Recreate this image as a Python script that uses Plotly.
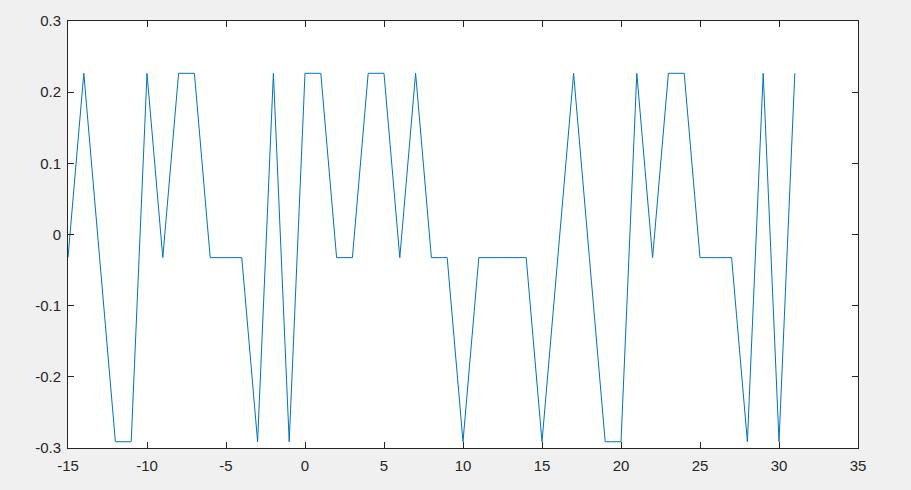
import plotly.graph_objects as go

HI = 0.2265
MID = -0.0325
LO = -0.2912

x_vals = list(range(-15, 32))
y_vals = [
    MID, HI, MID, LO, LO, HI, MID, HI, HI, MID,   # -15..-6
    MID, MID, LO, HI, LO, HI, HI, MID, MID, HI,   # -5..4
    HI, MID, HI, MID, MID, LO, MID, MID, MID, MID,  # 5..14
    LO, MID, HI, MID, LO, LO, HI, MID, HI, HI,    # 15..24
    MID, MID, MID, LO, HI, LO, HI                 # 25..31
]

x_ticks = [-15, -10, -5, 0, 5, 10, 15, 20, 25, 30, 35]
y_ticks = [-0.3, -0.2, -0.1, 0, 0.1, 0.2, 0.3]
y_tick_text = ["-0.3", "-0.2", "-0.1", "0", "0.1", "0.2", "0.3"]

fig = go.Figure()
fig.add_trace(go.Scatter(x=x_vals, y=y_vals, mode="lines",
                         line=dict(color="#0072BD", width=1), showlegend=False))

axis_common = dict(
    showgrid=False, zeroline=False, showline=True, linecolor="#262626", linewidth=1,
    mirror="allticks", ticks="inside", ticklen=6, tickcolor="#262626", tickwidth=1,
    tickfont=dict(family="Liberation Sans, Arial, sans-serif", size=15, color="#262626"),
)

fig.update_xaxes(range=[-15, 35], tickmode="array", tickvals=x_ticks,
                 ticktext=[str(v) for v in x_ticks], ticklabelstandoff=4, **axis_common)
fig.update_yaxes(range=[-0.3, 0.3], tickmode="array", tickvals=y_ticks,
                 ticktext=y_tick_text, ticklabelstandoff=3, **axis_common)

fig.update_layout(
    width=911, height=490,
    margin=dict(l=68, r=53, t=21, b=42),
    paper_bgcolor="#F0F0F0", plot_bgcolor="#FFFFFF",
)

fig.write_html(
    "out.html",
    config={"displayModeBar": False},
    post_script="document.body.style.margin='0';document.body.style.background='#F0F0F0';"
)
